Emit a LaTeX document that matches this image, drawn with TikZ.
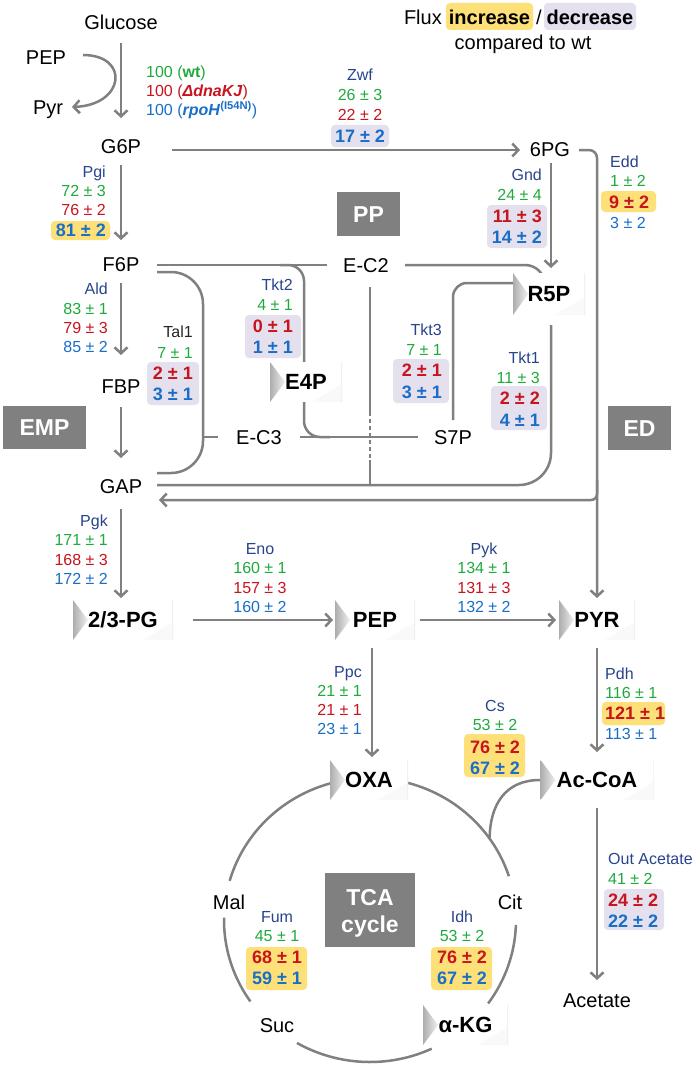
\documentclass[tikz,border=0pt]{standalone}
\usepackage{fontspec}
\setmainfont{Liberation Sans}
\usetikzlibrary{arrows.meta,calc}
\definecolor{lnc}{RGB}{128,128,128}
\definecolor{enzc}{RGB}{40,68,140}
\definecolor{grn}{RGB}{30,170,60}
\definecolor{rd}{RGB}{200,20,30}
\definecolor{bl}{RGB}{25,110,200}
\definecolor{yel}{RGB}{253,225,120}
\definecolor{lav}{RGB}{228,224,238}
\definecolor{gbox}{RGB}{128,128,128}
\pgfdeclarelayer{bg}
\pgfsetlayers{bg,main}
\begin{document}
\begin{tikzpicture}[x=1pt,y=-1pt,
  every node/.style={inner sep=0pt, text depth=0pt},
  f16/.style={font=\fontsize{16}{19}\selectfont, text height=11.5pt},
  f18b/.style={font=\bfseries\fontsize{18}{21}\selectfont, text height=12.9pt},
  enz/.style={f16, text=enzc},
  gv/.style={f16, text=grn},
  rv/.style={f16, text=rd},
  bv/.style={f16, text=bl},
  rb/.style={f18b, text=rd},
  bb/.style={f18b, text=bl},
  met/.style={font=\fontsize{20}{23}\selectfont, text height=14.3pt},
  lg/.style={font=\fontsize{20}{23}\selectfont, text height=14.3pt},
  lgb/.style={font=\bfseries\fontsize{20}{23}\selectfont, text height=14.3pt},
  gbx/.style={fill=gbox, text=white, font=\bfseries\fontsize{23}{27}\selectfont, text height=16.5pt},
  gtx/.style={text=white, font=\bfseries\fontsize{23}{27}\selectfont, text height=16.5pt},
  mbox/.style={font=\bfseries\fontsize{22}{25}\selectfont, text height=15.8pt, minimum height=40pt, fill=white,
    path picture={
      \fill[black!2.5] (path picture bounding box.south east) -- ([xshift=-30pt]path picture bounding box.south east) -- ([yshift=18pt]path picture bounding box.south east) -- cycle;
      \shade[left color=black!32, right color=black!6] (path picture bounding box.north west) -- (path picture bounding box.south west) -- ([xshift=15pt]path picture bounding box.west) -- cycle;
      \draw[black!6, line width=1.6pt] (path picture bounding box.north east) -- (path picture bounding box.south east);
    }},
  conn/.style={draw=lnc, line width=2.5pt},
  arr/.style={conn, -{Straight Barb[length=6pt,width=13pt]}},
  hy/.style={fill=yel, rounded corners=4pt},
  hv/.style={fill=lav, rounded corners=4pt},
]

% ---------- legend ----------
\node[lg, anchor=east] (lflux) at (442,17) {Flux};
\node[lgb] (linc) at (489.5,17) {increase};
\node[lg] (lsl) at (539,17) {/};
\node[lgb] (ldec) at (590,17) {decrease};
\node[lg] (lcmp) at (523,42) {compared to wt};

% ---------- header ----------
\node[gv, anchor=west] (h1) at (146,72) {100 (\textbf{wt})};
\node[rv, anchor=west] (h2) at (146,91) {100 (\textbf{\textit{ΔdnaKJ}})};
\node[bv, anchor=west] (h3) at (146,110) {100 (\textbf{\textit{rpoH}}\textsuperscript{\textbf{(I54N)}})};

% ---------- metabolites (plain) ----------
\node[met] (glc) at (121,22) {Glucose};
\node[met] (pepin) at (46,57) {PEP};
\node[met] (pyrout) at (48,107) {Pyr};
\node[met] (g6p) at (121,146) {G6P};
\node[met] (f6p) at (121,264) {F6P};
\node[met] (fbp) at (121,386) {FBP};
\node[met] (gap) at (121,486) {GAP};
\node[met] (pg6) at (550,149) {6PG};
\node[met] (ec2) at (366,265) {E-C2};
\node[met] (ec3) at (259,437) {E-C3};
\node[met] (s7p) at (453,437) {S7P};
\node[met] (mal) at (229,902) {Mal};
\node[met] (cit) at (510,902) {Cit};
\node[met] (suc) at (277,1025) {Suc};
\node[met] (acet) at (597,1000) {Acetate};

% ---------- metabolite boxes ----------
\node[mbox, minimum width=100pt] (pg) at (123,620) {2/3-PG};
\node[mbox, minimum width=80pt] (pep) at (375,620) {PEP};
\node[mbox, minimum width=76pt] (pyr) at (597,620) {PYR};
\node[mbox, minimum width=78pt] (oxa) at (369,780) {OXA};
\node[mbox, minimum width=113pt] (accoa) at (597,780) {Ac-CoA};
\node[mbox, minimum width=85pt] (akg) at (465.5,1025) {α-KG};
\node[mbox, minimum width=72pt, minimum height=42pt] (r5p) at (549,294) {R5P};
\node[mbox, minimum width=72pt] (e4p) at (306,382) {E4P};

% ---------- pathway boxes ----------
\node[gbx, minimum width=83pt, minimum height=43pt] (emp) at (44.5,427.5) {EMP};
\node[gbx, minimum width=63pt, minimum height=44pt] (pp) at (368.5,214) {PP};
\node[gbx, minimum width=63pt, minimum height=44pt] (ed) at (639.5,428) {ED};
\node[fill=gbox, minimum width=90pt, minimum height=74pt] (tcab) at (370,910) {};
\node[gtx] (tca1) at (370,897) {TCA};
\node[gtx] (tca2) at (370,924) {cycle};

% ---------- flux values ----------
% Zwf
\node[enz] (zwf0) at (360,75) {Zwf};
\node[gv] (zwf1) at (360,95) {26 ± 3};
\node[rv] (zwf2) at (360,115) {22 ± 2};
\node[bb] (zwf3) at (360,136) {17 ± 2};
% Pgi
\node[enz, anchor=east] (pgi0) at (106,172) {Pgi};
\node[gv, anchor=east] (pgi1) at (106,191) {72 ± 3};
\node[rv, anchor=east] (pgi2) at (106,210) {76 ± 2};
\node[bb, anchor=east] (pgi3) at (106,230) {81 ± 2};
% Gnd
\node[enz, anchor=east] (gnd0) at (542,175) {Gnd};
\node[gv, anchor=east] (gnd1) at (542,195) {24 ± 4};
\node[rb, anchor=east] (gnd2) at (542,216) {11 ± 3};
\node[bb, anchor=east] (gnd3) at (542,237) {14 ± 2};
% Edd
\node[enz, anchor=west] (edd0) at (610,162) {Edd};
\node[gv, anchor=west] (edd1) at (610,181) {1 ± 2};
\node[rb, anchor=west] (edd2) at (609,202) {9 ± 2};
\node[bv, anchor=west] (edd3) at (610,223) {3 ± 2};
% Ald
\node[enz, anchor=east] (ald0) at (108,289) {Ald};
\node[gv, anchor=east] (ald1) at (108,309) {83 ± 1};
\node[rv, anchor=east] (ald2) at (108,328) {79 ± 3};
\node[bv, anchor=east] (ald3) at (108,347) {85 ± 2};
% Tal1
\node[f16, text=black!85, anchor=east] (tal0) at (193,332) {Tal1};
\node[gv, anchor=east] (tal1) at (193,353) {7 ± 1};
\node[rb, anchor=east] (tal2) at (193,373) {2 ± 1};
\node[bb, anchor=east] (tal3) at (193,394) {3 ± 1};
% Tkt2
\node[enz, anchor=east] (tkb0) at (293,285) {Tkt2};
\node[gv, anchor=east] (tkb1) at (293,305) {4 ± 1};
\node[rb, anchor=east] (tkb2) at (293,326) {0 ± 1};
\node[bb, anchor=east] (tkb3) at (293,347) {1 ± 1};
% Tkt3
\node[enz, anchor=east] (tkc0) at (442,330) {Tkt3};
\node[gv, anchor=east] (tkc1) at (442,350) {7 ± 1};
\node[rb, anchor=east] (tkc2) at (442,370) {2 ± 1};
\node[bb, anchor=east] (tkc3) at (442,392) {3 ± 1};
% Tkt1
\node[enz, anchor=east] (tka0) at (540,358) {Tkt1};
\node[gv, anchor=east] (tka1) at (540,378) {11 ± 3};
\node[rb, anchor=east] (tka2) at (540,398) {2 ± 2};
\node[bb, anchor=east] (tka3) at (540,420) {4 ± 1};
% Pgk
\node[enz, anchor=east] (pgk0) at (108,521) {Pgk};
\node[gv, anchor=east] (pgk1) at (108,540) {171 ± 1};
\node[rv, anchor=east] (pgk2) at (108,560) {168 ± 3};
\node[bv, anchor=east] (pgk3) at (108,579) {172 ± 2};
% Eno
\node[enz] (eno0) at (260,549) {Eno};
\node[gv] (eno1) at (260,568) {160 ± 1};
\node[rv] (eno2) at (260,588) {157 ± 3};
\node[bv] (eno3) at (260,607) {160 ± 2};
% Pyk
\node[enz] (pyk0) at (484,549) {Pyk};
\node[gv] (pyk1) at (484,568) {134 ± 1};
\node[rv] (pyk2) at (484,588) {131 ± 3};
\node[bv] (pyk3) at (484,607) {132 ± 2};
% Ppc
\node[enz, anchor=east] (ppc0) at (362,672) {Ppc};
\node[gv, anchor=east] (ppc1) at (362,691) {21 ± 1};
\node[rv, anchor=east] (ppc2) at (362,710) {21 ± 1};
\node[bv, anchor=east] (ppc3) at (362,729) {23 ± 1};
% Pdh
\node[enz, anchor=west] (pdh0) at (605,674) {Pdh};
\node[gv, anchor=west] (pdh1) at (605,693) {116 ± 1};
\node[rb, anchor=west] (pdh2) at (605,713) {121 ± 1};
\node[bv, anchor=west] (pdh3) at (605,734) {113 ± 1};
% Cs
\node[enz] (cs0) at (495,706) {Cs};
\node[gv] (cs1) at (495,725) {53 ± 2};
\node[rb] (cs2) at (495,747) {76 ± 2};
\node[bb] (cs3) at (495,768) {67 ± 2};
% Fum
\node[enz] (fum0) at (277,917) {Fum};
\node[gv] (fum1) at (277,936) {45 ± 1};
\node[rb] (fum2) at (277,957) {68 ± 1};
\node[bb] (fum3) at (277,978) {59 ± 1};
% Idh
\node[enz] (idh0) at (462,917) {Idh};
\node[gv] (idh1) at (462,936) {53 ± 2};
\node[rb] (idh2) at (462,957) {76 ± 2};
\node[bb] (idh3) at (462,978) {67 ± 2};
% Out acetate
\node[enz, anchor=west] (out0) at (608,859) {Out Acetate};
\node[gv, anchor=west] (out1) at (608,879) {41 ± 2};
\node[rb, anchor=west] (out2) at (608,900) {24 ± 2};
\node[bb, anchor=west] (out3) at (608,921) {22 ± 2};

\begin{pgfonlayer}{bg}
\fill[white] (0,0) rectangle (697,1070);
% highlights
\fill[hy] (446,3) rectangle (533,30);
\fill[hv] (544,3) rectangle (636,30);
\fill[hv] (331,125) rectangle (389,147);
\fill[hy] (51,221) rectangle (110,240);
\fill[hv] (487,205) rectangle (547,248);
\fill[hy] (601,191) rectangle (656,212);
\fill[hv] (147,362) rectangle (199,405);
\fill[hv] (245,315) rectangle (301,358);
\fill[hv] (393,359) rectangle (449,403);
\fill[hv] (491,386) rectangle (547,430);
\fill[hy] (602,702) rectangle (665,725);
\fill[hy] (464,734) rectangle (525,777);
\fill[hy] (246,947) rectangle (307,990);
\fill[hy] (431,947) rectangle (492,990);
\fill[hv] (604,889) rectangle (664,930);

% main chain
\draw[arr] ($(glc)+(0,21)$) -- ($(g6p)+(0,-28)$);
\draw[arr] ($(pepin)+(37,-2)$) .. controls (130,55) and (125,105) .. ($(pyrout)+(24,0)$);
\draw[arr] ($(g6p)+(0,19)$) -- ($(f6p)+(0,-24)$);
\draw[arr] ($(f6p)+(0,19)$) -- ($(fbp)+(0,-31)$);
\draw[arr] ($(fbp)+(0,21)$) -- ($(gap)+(0,-28)$);
\draw[arr] ($(gap)+(0,23)$) -- ($(pg)+(-2,-22)$);
\draw[arr] ($(g6p)+(51,4)$) -- ($(pg6)+(-30,1)$);
\draw[arr] ($(pg6)+(1,14)$) -- ($(r5p)+(2,-26)$);
\draw[arr, rounded corners=8pt] ($(pg6)+(29,1)$) -- ($(pg6)+(47,1)$) -- ($(pyr)+(0,-22)$);
\draw[arr, rounded corners=6pt] ($(pyr)+(0,-140)$) -- ($(pyr)+(0,-120)$) -- ($(gap)+(38,14)$);
\draw[arr] ($(pg)+(70,0)$) -- ($(pep)+(-42,0)$);
\draw[arr] ($(pep)+(45,0)$) -- ($(pyr)+(-41,0)$);
\draw[arr] ($(pep)+(-3,28)$) -- ($(oxa)+(3,-23)$);
\draw[arr] ($(pyr)+(0,28)$) -- ($(accoa)+(0,-28)$);
\draw[arr] ($(accoa)+(0,28)$) -- ($(acet)+(0,-20)$);

% pentose phosphate network
\draw[conn, rounded corners=32pt] ($(r5p)+(2,31)$) -- ($(r5p)+(2,191)$) -- ($(gap)+(36,-1)$);
\draw[conn, rounded corners=32pt] ($(f6p)+(36,8)$) -- ($(f6p)+(82,8)$) -- ($(gap)+(82,-13)$) -- ($(gap)+(36,-13)$);
\draw[conn] ($(f6p)+(36,1)$) -- ($(ec2)+(-39,0)$);
\draw[conn, rounded corners=20pt] ($(ec2)+(39,0)$) -- ($(r5p)+(-4,-29)$) -- ($(r5p)+(-4,6)$);
\draw[conn, rounded corners=16pt] ($(ec2)+(-86,0)$) -- ($(ec2)+(-62,0)$) -- ($(s7p)+(-149,0)$) -- ($(s7p)+(-123,0)$);
\draw[conn] ($(ec3)+(41,0)$) -- ($(s7p)+(-35,0)$);
\draw[conn] ($(ec3)+(-56,0)$) -- ($(ec3)+(-41,0)$);
\draw[conn, rounded corners=14pt] ($(s7p)+(0,-17)$) -- ($(s7p)+(0,-154)$) -- ($(r5p)+(-29,-11)$);
\draw[conn] ($(ec2)+(4,22)$) -- ($(ec2)+(4,147)$);
\draw[conn, dash pattern=on 4pt off 3pt] ($(ec2)+(4,147)$) -- ($(ec2)+(4,195)$);
\draw[conn] ($(ec2)+(4,195)$) -- ($(ec2)+(4,220)$);

% TCA cycle
\draw[conn, domain=196:257, samples=40, smooth] plot ({370+146*cos(\x)},{920+142*sin(\x)});
\draw[conn, domain=145:181, samples=30, smooth] plot ({370+146*cos(\x)},{920+142*sin(\x)});
\draw[conn, domain=65:120, samples=40, smooth] plot ({370+146*cos(\x)},{920+142*sin(\x)});
\draw[conn, domain=2:36, samples=30, smooth] plot ({370+146*cos(\x)},{920+142*sin(\x)});
\draw[conn, domain=283:342, samples=40, smooth] plot ({370+146*cos(\x)},{920+142*sin(\x)});
\draw[conn] ($(accoa)+(-57,0)$) .. controls (505,780) and (490,805) .. (489.6,838.6);
\end{pgfonlayer}
\end{tikzpicture}
\end{document}
